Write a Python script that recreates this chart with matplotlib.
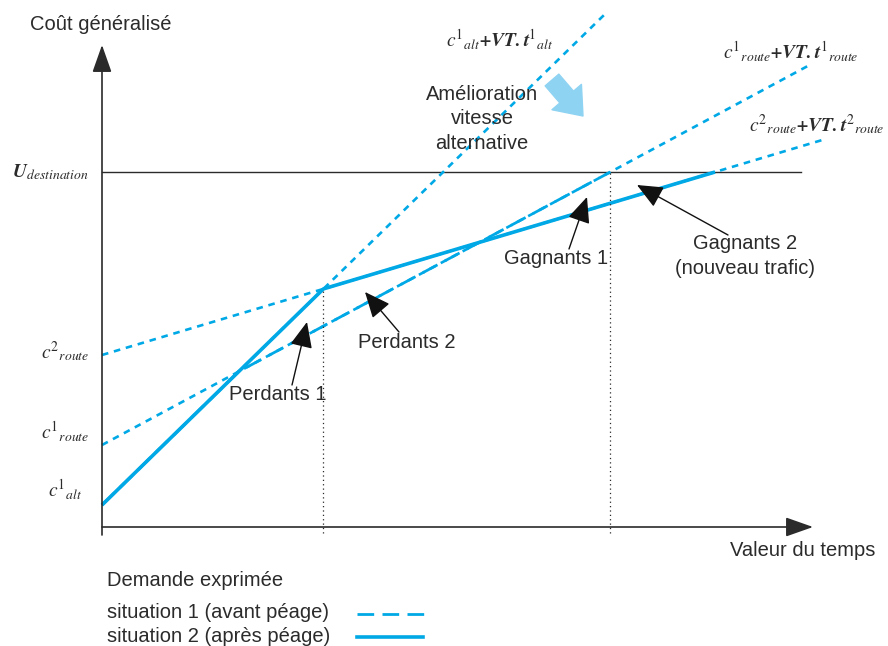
import matplotlib
matplotlib.use("Agg")
import matplotlib.pyplot as plt
import numpy as np

# generalised cost lines  cost = c + VT * t
line_names = ["alt1", "route1", "route2"]
line_c = [0.22, 0.82, 1.72]        # intercepts c
line_t = [0.976, 0.537, 0.2985]    # slopes t
line_end = [5.05, 7.06, 7.23]      # where the dotted guide stops (VT)
u_dest = 3.55
axis_x_end = 7.11
axis_y_end = 4.82

blue = "#00a9e6"
light_blue = "#8fd3f2"
ink = "#2b2b2b"

plt.rcParams['font.family'] = ['Liberation Sans', 'DejaVu Sans']
plt.rcParams['mathtext.fontset'] = 'stix'


def cost(i, vt):
    return line_c[i] + line_t[i] * np.asarray(vt)


def cross(i, j):
    return (line_c[j] - line_c[i]) / (line_t[i] - line_t[j])


fig = plt.figure(figsize=(8.88, 6.46), dpi=100)
ax = fig.add_axes([0, 0, 1, 1])
ax.set_xlim(-1.02, 7.86)
ax.set_ylim(-1.19, 5.27)
ax.axis("off")

# axes with arrows
arr = dict(arrowstyle='-|>,head_length=0.85,head_width=0.3', lw=1.2,
           color=ink, mutation_scale=20, shrinkA=0, shrinkB=0)
ax.annotate('', xy=(0, axis_y_end), xytext=(0, -0.08), arrowprops=arr)
ax.annotate('', xy=(axis_x_end, 0), xytext=(0, 0), arrowprops=arr)

# utility of destination
ax.plot([0, 6.99], [u_dest, u_dest], color=ink, lw=1.0)

# dotted guide lines
for i in range(3):
    vt = np.array([0, line_end[i]])
    ax.plot(vt, cost(i, vt), color=blue, lw=1.9, dashes=(2.5, 2.2))

# situation 1 : alt1 then route1 until destination
k1 = cross(0, 1)
e1 = (u_dest - line_c[1]) / line_t[1]
s1x = [0, k1, e1]
s1y = [line_c[0], cost(0, k1), u_dest]
ax.plot(s1x, s1y, color=blue, lw=2.0, dashes=(6, 3))

# situation 2 : alt1 then route2 until destination
k2 = cross(0, 2)
e2 = (u_dest - line_c[2]) / line_t[2]
s2x = [0, k2, e2]
s2y = [line_c[0], cost(0, k2), u_dest]
ax.plot(s2x, s2y, color=blue, lw=2.6, solid_capstyle='butt')

# vertical dotted markers
ax.plot([k2, k2], [-0.06, cost(0, k2)], color=ink, lw=0.9, ls=(0, (1, 2.5)))
ax.plot([e1, e1], [-0.06, u_dest], color=ink, lw=0.9, ls=(0, (1, 2.5)))

# labels on y axis
mfs = 14
ax.text(-0.52, u_dest, r'$\mathbfit{U}_{destination}$', fontsize=mfs, ha='center', va='center', color=ink)
ax.text(-0.37, 1.75, r'$c^{\mathit{2}}{}_{route}$', fontsize=mfs, ha='center', va='center', color=ink)
ax.text(-0.37, 0.95, r'$c^{\mathit{1}}{}_{route}$', fontsize=mfs, ha='center', va='center', color=ink)
ax.text(-0.37, 0.37, r'$c^{\mathit{1}}{}_{alt}$', fontsize=mfs, ha='center', va='center', color=ink)

ax.text(3.98, 4.87, r'$c^{\mathit{1}}{}_{alt}\mathbfit{+VT.t}^{\mathit{1}}{}_{alt}$', fontsize=mfs, ha='center', va='center', color=ink)
ax.text(6.89, 4.75, r'$c^{\mathit{1}}{}_{route}\mathbfit{+VT.t}^{\mathit{1}}{}_{route}$', fontsize=mfs, ha='center', va='center', color=ink)
ax.text(7.15, 4.02, r'$c^{\mathit{2}}{}_{route}\mathbfit{+VT.t}^{\mathit{2}}{}_{route}$', fontsize=mfs, ha='center', va='center', color=ink)

fs = 14.5
ax.text(-0.72, 5.03, 'Coût généralisé', fontsize=fs, ha='left', va='center', color=ink)
ax.text(7.01, -0.23, 'Valeur du temps', fontsize=fs, ha='center', va='center', color=ink)

# speed improvement arrow
ax.text(3.80, 4.08, 'Amélioration\nvitesse\nalternative', fontsize=fs, ha='center', va='center',
        color=ink, linespacing=1.35)
ax.annotate('', xy=(4.81, 4.11), xytext=(4.50, 4.47),
            arrowprops=dict(arrowstyle='simple,head_width=1.4,head_length=0.9,tail_width=0.65',
                            color=light_blue, mutation_scale=20, shrinkA=0, shrinkB=0))

# winners / losers
notes = [
    ('Perdants 1', (1.76, 1.32), (1.90, 1.42), (2.05, 2.05)),
    ('Perdants 2', (3.05, 1.84), (2.97, 1.95), (2.63, 2.35)),
    ('Gagnants 1', (4.54, 2.69), (4.67, 2.78), (4.85, 3.30)),
    ('Gagnants 2\n(nouveau trafic)', (6.43, 2.71), (6.26, 2.92), (5.35, 3.42)),
]
for txt, pos, tail, tip in notes:
    ax.annotate('', xy=tip, xytext=tail,
                arrowprops=dict(arrowstyle='-|>,head_length=0.8,head_width=0.35', lw=1.0,
                                color='#111111', mutation_scale=20, shrinkA=0, shrinkB=0))
    ax.text(pos[0], pos[1], txt, fontsize=fs, ha='center', va='center', color=ink,
            linespacing=1.35)

# legend
ax.text(0.05, -0.53, 'Demande exprimée', fontsize=fs, ha='left', va='center', color=ink)
ax.text(0.05, -0.85, 'situation 1 (avant péage)', fontsize=fs, ha='left', va='center', color=ink)
ax.text(0.05, -1.09, 'situation 2 (après péage)', fontsize=fs, ha='left', va='center', color=ink)
ax.plot([2.55, 3.23], [-0.87, -0.87], color=blue, lw=2.0, dashes=(6, 3))
ax.plot([2.55, 3.21], [-1.10, -1.10], color=blue, lw=2.6)

fig.savefig("out.png", dpi=100)
